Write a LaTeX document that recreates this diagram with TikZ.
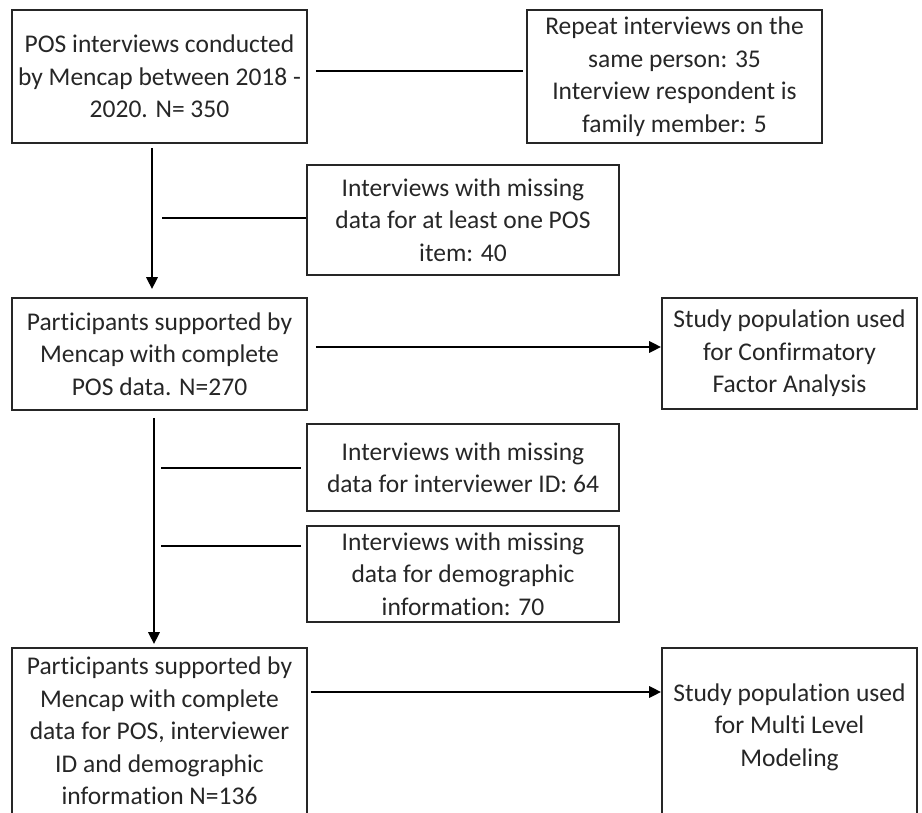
\documentclass[tikz,border=0pt]{standalone}
\usepackage{fontspec}
\setmainfont{Carlito}[Ligatures=NoCommon]
\usetikzlibrary{arrows.meta,calc}
\tikzset{
  box/.style={draw=black!85, line width=1.6pt, align=center, inner sep=1pt,
    font=\fontsize{25.5}{32.5}\selectfont, text=black!85},
  ln/.style={draw=black, line width=2.8pt},
  arr/.style={ln, -{Triangle[length=12pt,width=11pt]}},
}
\begin{document}
\begin{tikzpicture}[x=1pt,y=-1pt]
\useasboundingbox (0,0) rectangle (922,813);
\clip (0,0) rectangle (922,813);
\node[box, minimum width=295, minimum height=133] (b1) at (159.5,76.5)
  {POS interviews conducted\\by Mencap between 2018 -\\2020. N= 350};
\node[box, minimum width=295, minimum height=133] (b2) at (674.5,76.5)
  {Repeat interviews on the\\same person: 35\\Interview respondent is\\family member: 5};
\node[box, minimum width=312, minimum height=110] (m1) at (463,220)
  {Interviews with missing\\data for at least one POS\\item: 40};
\node[box, minimum width=295, minimum height=112] (b3) at (159.5,354)
  {Participants supported by\\Mencap with complete\\POS data. N=270};
\node[box, minimum width=255, minimum height=111] (b4) at (789.5,353.5)
  {Study population used\\for Confirmatory\\Factor Analysis};
\node[box, minimum width=312, minimum height=87] (m2) at (463,467.5)
  {Interviews with missing\\data for interviewer ID: 64};
\node[box, minimum width=312, minimum height=96] (m3) at (463,574)
  {Interviews with missing\\data for demographic\\information: 70};
\node[box, minimum width=295, minimum height=166] (b5) at (159.5,731)
  {Participants supported by\\Mencap with complete\\data for POS, interviewer\\ID and demographic\\information N=136};
\node[box, minimum width=255, minimum height=190, anchor=north] (b7) at (789.5,647) {};
\node[box, draw=none] (b7t) at (789.5,727)
  {Study population used\\for Multi Level\\Modeling};
\coordinate (v1) at (152,0);
\coordinate (v2) at (154,0);
\coordinate (h1) at (162,218);
\coordinate (h2) at (161,468);
\coordinate (h3) at (161,546);
% connectors
\draw[ln, shorten <=8pt, shorten >=3pt] ([yshift=5.5pt]b1.east) -- ([yshift=5.5pt]b1.east -| b2.west);
\draw[arr, shorten <=4pt, shorten >=8pt] (b1.south -| v1) -- (b3.north -| v1);
\draw[ln] (h1) -- (h1 -| m1.west);
\draw[arr, shorten <=8pt] ([yshift=7pt]b3.east) -- ([yshift=7pt]b3.east -| b4.west);
\draw[arr, shorten <=7pt, shorten >=3pt] (b3.south -| v2) -- (b5.north -| v2);
\draw[ln, shorten >=5pt] (h2) -- (h2 -| m2.west);
\draw[ln, shorten >=5pt] (h3) -- (h3 -| m3.west);
\draw[arr, shorten <=3pt] ([yshift=39pt]b5.east) -- ([yshift=39pt]b5.east -| b7.west);
\end{tikzpicture}
\end{document}
